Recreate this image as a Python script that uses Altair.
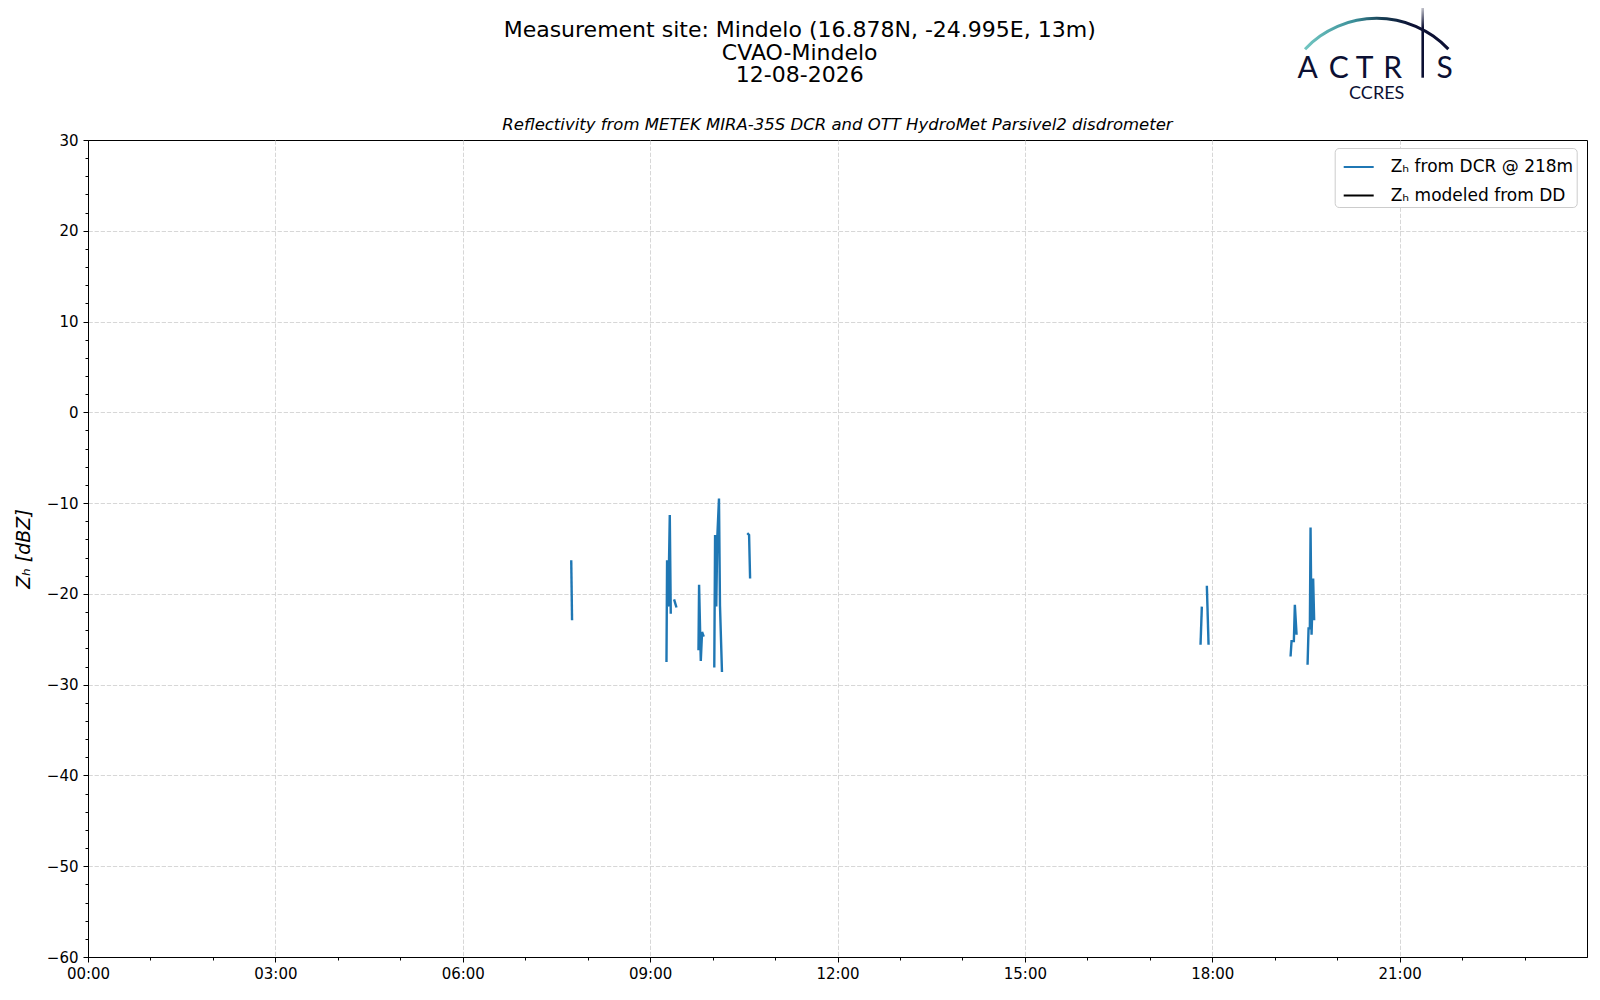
import altair as alt
import pandas as pd

# ---- data (time of day, Z_H in dBZ); each inner list is one contiguous segment
seg_times = [
    ["07:44:13", "07:45:00"],
    ["09:15:42", "09:16:17", "09:17:26", "09:18:53", "09:19:50"],
    ["09:23:01", "09:25:19"],
    ["09:46:27", "09:47:02", "09:48:40", "09:49:54", "09:51:32"],
    ["10:01:38", "10:02:24", "10:03:33", "10:04:31", "10:06:09", "10:07:07", "10:09:02"],
    ["10:33:20", "10:35:04", "10:36:02"],
    ["17:48:45", "17:50:00"],
    ["17:54:49", "17:56:27"],
    ["19:15:14", "19:16:11", "19:18:24", "19:19:21", "19:21:00"],
    ["19:31:34", "19:32:31", "19:33:46", "19:34:26", "19:35:24", "19:36:56", "19:37:54"],
]
seg_values = [
    [-16.3, -22.9],
    [-27.5, -16.3, -21.4, -11.3, -22.2],
    [-20.6, -21.5],
    [-26.2, -19.0, -27.4, -24.2, -24.7],
    [-28.1, -13.5, -21.4, -13.8, -9.5, -21.3, -28.6],
    [-13.3, -13.5, -18.3],
    [-25.6, -21.4],
    [-19.1, -25.6],
    [-26.9, -25.2, -25.2, -21.2, -24.5],
    [-27.8, -23.8, -23.8, -12.7, -24.5, -18.3, -22.9],
]
series_labels = ["Zₕ from DCR @ 218m", "Zₕ modeled from DD"]
series_colors = ["#1f77b4", "#000000"]

x_hours = list(range(0, 24))          # hourly ticks, labelled every 3 h
y_ticks = list(range(-60, 31, 2))     # minor every 2, labelled every 10

title_lines = ["Measurement site: Mindelo (16.878N, -24.995E, 13m)", "CVAO-Mindelo", "12-08-2026"]
subtitle = "Reflectivity from METEK MIRA-35S DCR and OTT HydroMet Parsivel2 disdrometer"
y_title = "Zₕ [dBZ]"

# ---- build table
rows = []
for i, (ts, vs) in enumerate(zip(seg_times, seg_values)):
    for t, v in zip(ts, vs):
        h, m, s = (int(p) for p in t.split(":"))
        rows.append({"hour": h + m / 60 + s / 3600, "zh": v, "seg": i, "series": series_labels[0]})
df = pd.DataFrame(rows)

W, H = 1499, 817
FONT = "DejaVu Sans"
GRID = "#d3d3d3"

xaxis = alt.Axis(
    values=x_hours, title=None,
    labelExpr="datum.value % 3 === 0 ? (datum.value < 10 ? '0' : '') + datum.value + ':00' : ''",
    tickSize={"condition": {"test": "datum.value % 3 === 0", "value": 5}, "value": 3},
    grid=True, gridColor=GRID, gridDash=[4.3, 1.8], gridWidth=0.9,
    gridOpacity={"condition": {"test": "datum.value % 3 === 0 && datum.value > 0", "value": 1}, "value": 0},
    domainColor="black", tickColor="black", labelColor="black",
    labelFont=FONT, labelFontSize=15, labelPadding=4, labelOverlap=False, labelFlush=False,
)
yaxis = alt.Axis(
    values=y_ticks, title=y_title,
    labelExpr="datum.value % 10 === 0 ? (datum.value < 0 ? '\u2212' + abs(datum.value) : '' + datum.value) : ''",
    tickSize={"condition": {"test": "datum.value % 10 === 0", "value": 5}, "value": 3},
    grid=True, gridColor=GRID, gridDash=[4.3, 1.8], gridWidth=0.9,
    gridOpacity={"condition": {"test": "datum.value % 10 === 0 && datum.value > -60 && datum.value < 30",
                               "value": 1}, "value": 0},
    domainColor="black", tickColor="black", labelColor="black",
    labelFont=FONT, labelFontSize=15, labelPadding=5, labelOverlap=False, labelFlush=False,
    titleFont=FONT, titleFontSize=19, titleFontStyle="italic", titleFontWeight="normal",
    titleColor="black", titleX=-65, titleY=H / 2, titleAngle=270, titleAlign="center",
    titleBaseline="middle",
)
legend = alt.Legend(
    title=None, orient="none", legendX=1246.7, legendY=8.0,
    symbolType="stroke", symbolSize=900, symbolStrokeWidth=2, symbolOffset=5,
    labelFont=FONT, labelFontSize=17, labelColor="black", labelOffset=16, labelLimit=400,
    strokeColor="#cccccc", fillColor="white", padding=3, cornerRadius=4, rowPadding=4.5,
)

line = alt.Chart(df).mark_line(strokeWidth=2.4).encode(
    x=alt.X("hour:Q", scale=alt.Scale(domain=[0, 24], nice=False, zero=False), axis=xaxis),
    y=alt.Y("zh:Q", scale=alt.Scale(domain=[-60, 30], nice=False, zero=False), axis=yaxis),
    color=alt.Color("series:N", scale=alt.Scale(domain=series_labels, range=series_colors), legend=legend),
    detail="seg:N",
)

one = pd.DataFrame({"k": [0]})


def txt(text, x, y, size, **kw):
    return alt.Chart(one).mark_text(text=text, fontSize=size, **kw).encode(
        x=alt.value(x), y=alt.value(y)
    )


title_layer = txt(title_lines, 711.7, -103.0, 22, font=FONT, align="center",
                  baseline="alphabetic", lineHeight=22.7, color="black")
sub_layer = txt(subtitle, W / 2, -9.6, 16.5, font=FONT, fontStyle="italic",
                align="center", baseline="alphabetic", color="black")

NAVY = "#0c1033"
logo_letters = []
for letter, cx in [("A", 1219.7), ("C", 1250.7), ("T", 1276.7), ("R", 1304.7), ("S", 1356.7)]:
    logo_letters.append(txt(letter, cx, -62.3, 30, font="Lato", align="center",
                            baseline="alphabetic", color=NAVY))
ccres = txt("CCRES", 1288.7, -41.3, 18, font="Lato", align="center", baseline="alphabetic", color=NAVY)

arc_grad = {
    "gradient": "linear", "x1": 0, "x2": 1, "y1": 0, "y2": 0,
    "stops": [
        {"offset": 0, "color": "#72c7c2"},
        {"offset": 0.35, "color": "#3a8e98"},
        {"offset": 0.55, "color": "#15384f"},
        {"offset": 0.75, "color": NAVY},
        {"offset": 1, "color": NAVY},
    ],
}
arc = alt.Chart(one).mark_arc(
    theta=5.468, theta2=7.098, radius=100, radius2=97, fill=arc_grad, stroke=None
).encode(x=alt.value(1288.7), y=alt.value(-23.3))

bar_grad = {
    "gradient": "linear", "x1": 0, "x2": 0, "y1": 0, "y2": 1,
    "stops": [
        {"offset": 0, "color": "#ffffff"},
        {"offset": 0.35, "color": NAVY},
        {"offset": 1, "color": NAVY},
    ],
}
bar = alt.Chart(one).mark_rect(fill=bar_grad).encode(
    x=alt.value(1333.4), x2=alt.value(1336.0), y=alt.value(-139), y2=alt.value(-62.3)
)

chart = alt.layer(
    line, title_layer, sub_layer, arc, bar, ccres, *logo_letters
).properties(
    width=W, height=H,
    padding={"left": 80, "top": 132, "right": 5, "bottom": 35},
    autosize=alt.AutoSizeParams(type="none"),
).configure(font=FONT, background="white").configure_view(stroke="black", strokeWidth=1)

chart.save("out.html", embed_options={"renderer": "svg", "actions": False})
